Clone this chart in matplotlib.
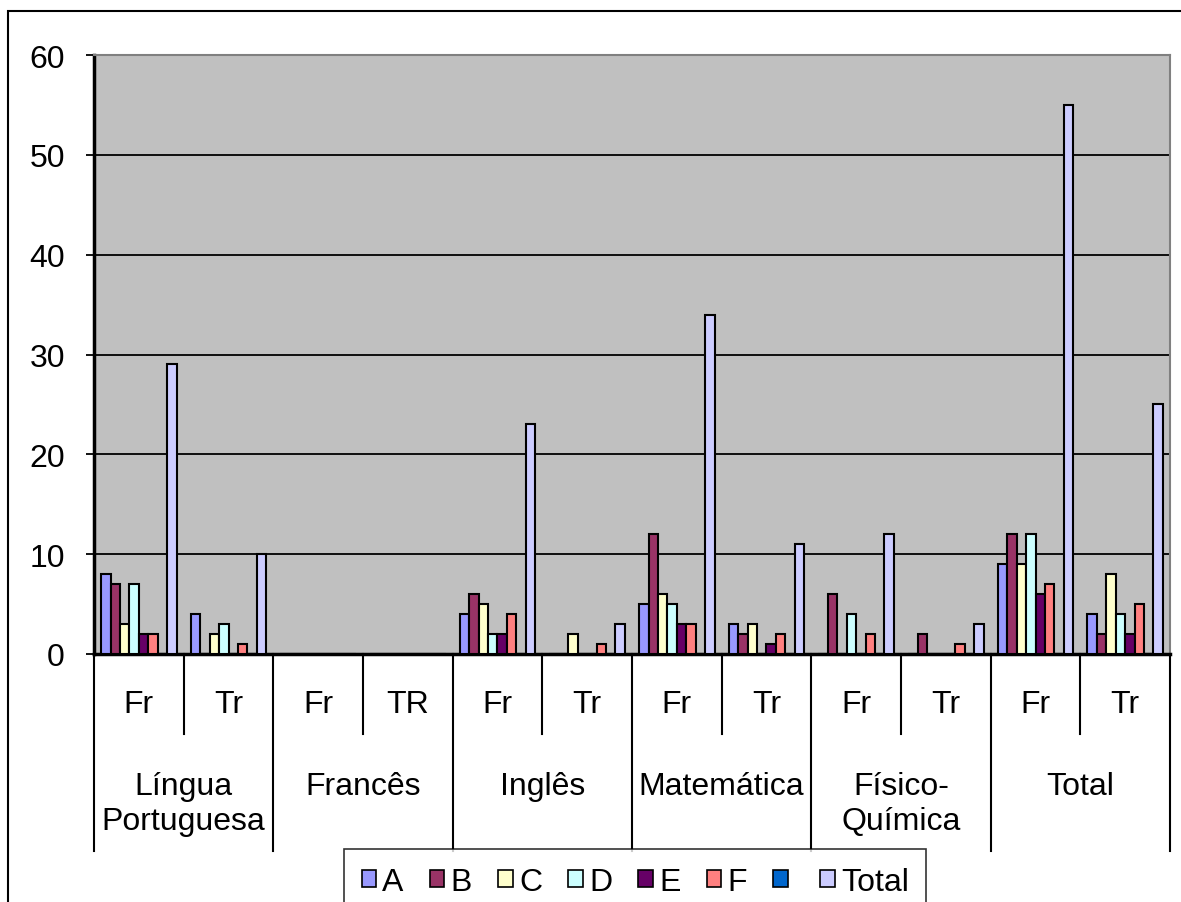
import matplotlib.pyplot as plt
from matplotlib.patches import Rectangle, Patch
from matplotlib.lines import Line2D

plt.rcParams['font.family'] = ['Liberation Sans', 'DejaVu Sans']

# data
subjects = ['Língua\nPortuguesa', 'Francês', 'Inglês', 'Matemática', 'Físico-\nQuímica', 'Total']
sub_labels = ['Fr', 'Tr', 'Fr', 'TR', 'Fr', 'Tr', 'Fr', 'Tr', 'Fr', 'Tr', 'Fr', 'Tr']
series_names = ['A', 'B', 'C', 'D', 'E', 'F', '', 'Total']
A = [8, 4, 0, 0, 4, 0, 5, 3, 0, 0, 9, 4]
B = [7, 0, 0, 0, 6, 0, 12, 2, 6, 2, 12, 2]
C = [3, 2, 0, 0, 5, 2, 6, 3, 0, 0, 9, 8]
D = [7, 3, 0, 0, 2, 0, 5, 0, 4, 0, 12, 4]
E = [2, 0, 0, 0, 2, 0, 3, 1, 0, 0, 6, 2]
F = [2, 1, 0, 0, 4, 1, 3, 2, 2, 1, 7, 5]
G = [0, 0, 0, 0, 0, 0, 0, 0, 0, 0, 0, 0]
Total = [29, 10, 0, 0, 23, 3, 34, 11, 12, 3, 55, 25]
series = [A, B, C, D, E, F, G, Total]
colors = ['#9999FF', '#993366', '#FFFFCC', '#CCFFFF', '#660066', '#FF8080', '#0066CC', '#CCCCFF']

W, H = 1181, 903
fs = 23
fig = plt.figure(figsize=(W / 100, H / 100), dpi=100)

# outer chart border
fig.patches.append(Rectangle((8 / W, -0.1), 1.2, 1 - 12 / H + 0.1, transform=fig.transFigure,
                             fill=False, edgecolor='black', linewidth=1.5))

left, right, top, bottom = 94, 1170, 56, 655
ax = fig.add_axes([left / W, 1 - bottom / H, (right - left) / W, (bottom - top) / H])
ax.set_facecolor('#C0C0C0')

n = len(sub_labels)
bw = 1 / 9.5
for i, (vals, col) in enumerate(zip(series, colors)):
    xs = [g + 0.75 * bw + (i + 0.5) * bw for g in range(n)]
    ax.bar(xs, vals, width=bw, color=col, edgecolor='black', linewidth=1.5, zorder=3)

ax.set_xlim(0, n)
ax.set_ylim(0, 60)
ax.set_yticks(range(0, 61, 10))
ax.set_xticks([])
ax.yaxis.grid(True, color='black', linewidth=1.3, zorder=0)
ax.tick_params(axis='y', direction='out', length=6, width=1.3, labelsize=fs, pad=15)
ax.spines['left'].set_linewidth(2.5)
ax.spines['bottom'].set_linewidth(2.5)
ax.spines['top'].set_color('#808080')
ax.spines['right'].set_color('#808080')
ax.spines['top'].set_linewidth(1.5)
ax.spines['right'].set_linewidth(1.5)

# multi-level category axis
trans = ax.get_xaxis_transform()
px = 1 / (bottom - top)  # one pixel in axes units
for g in range(n + 1):
    depth = 197 if g % 2 == 0 else 80
    ax.add_line(Line2D([g, g], [0, -depth * px], transform=trans, color='black',
                       linewidth=1.5, clip_on=False))
for g, lab in enumerate(sub_labels):
    ax.text(g + 0.5, -50 * px, lab, transform=trans, ha='center', va='center', fontsize=fs)
for s, lab in enumerate(subjects):
    ax.text(2 * s + 1, -117 * px, lab, transform=trans, ha='center', va='top', fontsize=fs,
            linespacing=1.2)

# legend
handles = [Patch(facecolor=c, edgecolor='black', linewidth=1.2) for c in colors]
fig.legend(handles, series_names, loc='upper left', bbox_to_anchor=(344 / W, 1 - 850 / H),
           ncol=8, fontsize=fs, frameon=True, fancybox=False, edgecolor='black',
           handlelength=0.45, handleheight=0.45, handletextpad=0.2, columnspacing=0.82,
           borderpad=0.55, borderaxespad=0).get_frame().set_linewidth(1.2)

fig.savefig('out.png', dpi=100)
